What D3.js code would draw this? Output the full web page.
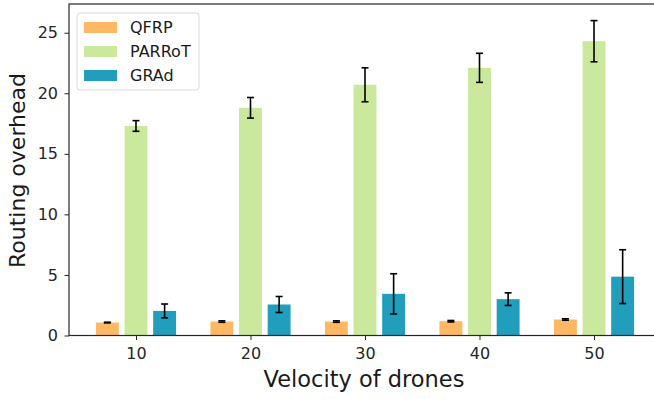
<!DOCTYPE html>
<html>
<head>
<meta charset="utf-8">
<script src="https://cdn.jsdelivr.net/npm/d3@7"></script>
<style>
  body { margin: 0; background: #fff; }
  svg { display: block; font-family: "DejaVu Sans", sans-serif; }
</style>
</head>
<body>
<div id="chart"></div>
<script>
// datos
var velocidades = [10, 20, 30, 40, 50]
var series = ["QFRP", "PARRoT", "GRAd"]
var qfrp = [1.07, 1.15, 1.15, 1.18, 1.32]
var qfrpErr = [0.03, 0.06, 0.06, 0.06, 0.06]
var parrot = [17.3, 18.8, 20.7, 22.1, 24.3]
var parrotErr = [0.44, 0.85, 1.4, 1.2, 1.7]
var grad = [2.03, 2.56, 3.44, 3.0, 4.86]
var gradErr = [0.57, 0.66, 1.66, 0.52, 2.22]
var yTicks = [0, 5, 10, 15, 20, 25]

var colores = ["#fdb863", "#cbe99d", "#219ebc"]

var width = 654
var height = 399
var margin = {top: 4, right: -7, bottom: 63.5, left: 69}

var svg = d3.select("#chart")
    .append("svg")
    .attr("width", width)
    .attr("height", height)

var x = d3.scaleLinear()
    .domain([4.15, 55.85])
    .range([margin.left, width - margin.right])

var y = d3.scaleLinear()
    .domain([0, 27.37])
    .range([height - margin.bottom, margin.top])

// tabla de barras
var datos = []
var valores = [qfrp, parrot, grad]
var errores = [qfrpErr, parrotErr, gradErr]
series.forEach(function (s, j) {
    velocidades.forEach(function (v, i) {
        datos.push({serie: j, x: v + (j - 1) * 2.5, valor: valores[j][i], err: errores[j][i]})
    })
})

var anchoBarra = x(2) - x(0)

svg.append("g")
    .selectAll("rect")
    .data(datos)
    .join("rect")
    .attr("x", d => x(d.x) - anchoBarra / 2)
    .attr("y", d => y(d.valor))
    .attr("width", anchoBarra)
    .attr("height", d => y(0) - y(d.valor))
    .attr("fill", d => colores[d.serie])

// barras de error
var gErr = svg.append("g")
    .attr("stroke", "#000")
    .attr("stroke-width", 1.6)
gErr.selectAll("line.v")
    .data(datos)
    .join("line")
    .attr("class", "v")
    .attr("x1", d => x(d.x)).attr("x2", d => x(d.x))
    .attr("y1", d => y(d.valor - d.err)).attr("y2", d => y(d.valor + d.err))
gErr.selectAll("line.top")
    .data(datos)
    .join("line")
    .attr("class", "top")
    .attr("x1", d => x(d.x) - 3.5).attr("x2", d => x(d.x) + 3.5)
    .attr("y1", d => y(d.valor + d.err)).attr("y2", d => y(d.valor + d.err))
gErr.selectAll("line.bot")
    .data(datos)
    .join("line")
    .attr("class", "bot")
    .attr("x1", d => x(d.x) - 3.5).attr("x2", d => x(d.x) + 3.5)
    .attr("y1", d => y(d.valor - d.err)).attr("y2", d => y(d.valor - d.err))

// ejes
var xAxis = svg.append("g")
    .attr("transform", "translate(0," + y(0) + ")")
    .call(d3.axisBottom(x).tickValues(velocidades).tickSize(4.5).tickPadding(8))
var yAxis = svg.append("g")
    .attr("transform", "translate(" + margin.left + ",0)")
    .call(d3.axisLeft(y).tickValues(yTicks).tickSize(4.5).tickPadding(6.5))

;[xAxis, yAxis].forEach(function (g) {
    g.select(".domain").remove()
    g.selectAll("line").attr("stroke", "#262626").attr("stroke-width", 1)
    g.selectAll("text").attr("font-size", 16).attr("fill", "#262626")
        .attr("font-family", "DejaVu Sans, sans-serif")
})

// marco
svg.append("rect")
    .attr("x", margin.left)
    .attr("y", margin.top)
    .attr("width", x.range()[1] - margin.left)
    .attr("height", y(0) - margin.top)
    .attr("fill", "none")
    .attr("stroke", "#262626")
    .attr("stroke-width", 1.2)

// etiquetas
svg.append("text")
    .attr("x", 364)
    .attr("y", 387)
    .attr("text-anchor", "middle")
    .attr("font-size", 22.5)
    .attr("fill", "#1a1a1a")
    .text("Velocity of drones")

svg.append("text")
    .attr("transform", "translate(25,170.5) rotate(-90)")
    .attr("text-anchor", "middle")
    .attr("font-size", 22)
    .attr("fill", "#1a1a1a")
    .text("Routing overhead")

// leyenda
var leyenda = svg.append("g").attr("transform", "translate(77,13)")
leyenda.append("rect")
    .attr("width", 122).attr("height", 77)
    .attr("rx", 3)
    .attr("fill", "#fff").attr("fill-opacity", 0.8)
    .attr("stroke", "#d9d9d9")
var items = leyenda.selectAll("g.item")
    .data(series)
    .join("g")
    .attr("class", "item")
    .attr("transform", (d, i) => "translate(7," + (9 + i * 24) + ")")
items.append("rect")
    .attr("width", 33).attr("height", 11)
    .attr("fill", (d, i) => colores[i])
items.append("text")
    .attr("x", 46).attr("y", 11)
    .attr("font-size", 16)
    .attr("fill", "#1a1a1a")
    .text(d => d)
</script>
</body>
</html>
